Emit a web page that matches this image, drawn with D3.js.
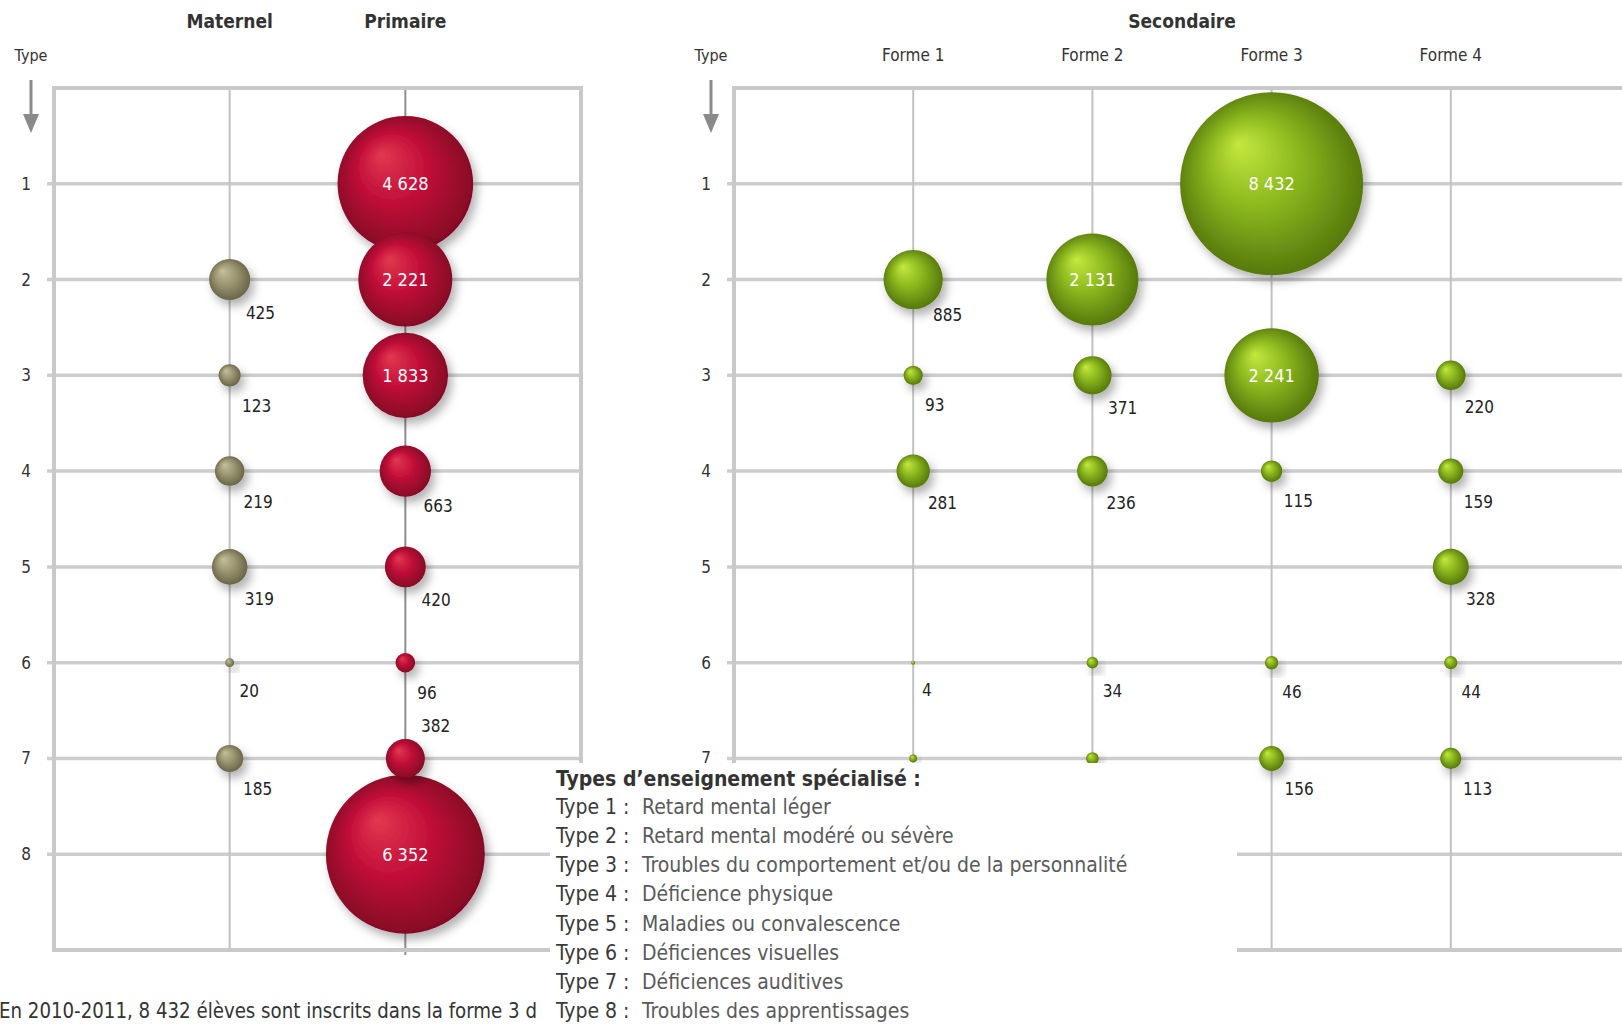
<!DOCTYPE html>
<html>
<head>
<meta charset="utf-8">
<script src="https://cdn.jsdelivr.net/npm/d3@7"></script>
<style>
  body { margin: 0; background: #fff; }
  svg text { font-family: "Liberation Sans Narrow", "DejaVu Sans Condensed", "Arial Narrow", sans-serif; fill: #333; }
</style>
</head>
<body>
<svg id="chart"></svg>
<script>
// ---- data ----
const types = ["1", "2", "3", "4", "5", "6", "7", "8"];

const fondCols = ["Maternel", "Primaire"];
const maternel = [null, 425, 123, 219, 319, 20, 185, null];
const primaire = [4628, 2221, 1833, 663, 420, 96, 382, 6352];

const secCols = ["Forme 1", "Forme 2", "Forme 3", "Forme 4"];
const forme1 = [null, 885, 93, 281, null, 4, 15, null];   // row 7 hidden under legend, estimated
const forme2 = [null, 2131, 371, 236, null, 34, 40, null]; // row 7 hidden under legend, estimated
const forme3 = [8432, null, 2241, 115, null, 46, 156, null];
const forme4 = [null, null, 220, 159, 328, 44, 113, null];

const legendTitle = "Types d\u2019enseignement spécialisé :";
const legendLabels = ["Retard mental léger", "Retard mental modéré ou sévère",
  "Troubles du comportement et/ou de la personnalité", "Déficience physique",
  "Maladies ou convalescence", "Déficiences visuelles", "Déficiences auditives",
  "Troubles des apprentissages"];
// only the visible part: the rest sits under the legend box
const footnote = "En 2010-2011, 8 432 élèves sont inscrits dans la forme 3 d";

// ---- layout ----
const width = 1622, height = 1025;
const frameTop = 88, frameBottom = 950;

const svg = d3.select("#chart")
    .attr("width", width)
    .attr("height", height);

const fr = d3.formatLocale({decimal: ",", thousands: "\u00a0", grouping: [3], currency: ["", " €"]});
const fmt = fr.format(",d");

// one radius scale for both panels (bubble area ~ pupils)
const r = d3.scaleSqrt().domain([0, 8432]).range([0, 91.5]);

const y = d3.scalePoint().domain(types).range([frameTop, frameBottom]).padding(1);

// gradients + shadow
const defs = svg.append("defs");
const palettes = {
  red:   ["#e2384f", "#c3103a", "#7e0522"],
  olive: ["#c4c09c", "#9d9772", "#635f44"],
  green: ["#c4e83e", "#8cb81e", "#4f700a"]
};
Object.entries(palettes).forEach(function ([key, c]) {
  const g = defs.append("radialGradient")
      .attr("id", "grad-" + key)
      .attr("cx", "50%").attr("cy", "50%").attr("r", "55%")
      .attr("fx", "32%").attr("fy", "28%");
  g.append("stop").attr("offset", "0%").attr("stop-color", c[0]);
  g.append("stop").attr("offset", "45%").attr("stop-color", c[1]);
  g.append("stop").attr("offset", "100%").attr("stop-color", c[2]);
});
const filt = defs.append("filter").attr("id", "shadow")
    .attr("x", "-40%").attr("y", "-40%").attr("width", "200%").attr("height", "200%");
filt.append("feDropShadow")
    .attr("dx", 4).attr("dy", 6).attr("stdDeviation", 5)
    .attr("flood-color", "#000").attr("flood-opacity", 0.3);

/**
 * Draws one bubble grid: frame, gridlines, headers, bubbles and labels
 */
function drawPanel(left, right, cols, series, colors, darkCol, hiddenTicks) {
  const x = d3.scalePoint().domain(cols).range([left, right]).padding(1);
  const g = svg.append("g");
  const xEnd = Math.min(right, width + 10);

  // horizontal gridlines (with a small tick left of the frame)
  g.selectAll(".hgrid").data(types).enter().append("line")
      .attr("x1", left - 7).attr("x2", xEnd)
      .attr("y1", d => y(d)).attr("y2", d => y(d))
      .attr("stroke", "#cdcdcd").attr("stroke-width", 3.5);

  // vertical gridlines
  g.selectAll(".vgrid").data(cols).enter().append("line")
      .attr("x1", d => x(d)).attr("x2", d => x(d))
      .attr("y1", frameTop)
      .attr("y2", d => d === darkCol ? frameBottom + 5 : frameBottom)
      .attr("stroke", d => d === darkCol ? "#8e8e8e" : "#c2c2c2")
      .attr("stroke-width", 2);

  // frame
  g.append("rect")
      .attr("x", left).attr("y", frameTop)
      .attr("width", right - left).attr("height", frameBottom - frameTop)
      .attr("fill", "none").attr("stroke", "#c9c9c9").attr("stroke-width", 4);

  // row labels
  const yAxis = g.append("g")
      .attr("transform", `translate(${left - 7},0)`)
      .call(d3.axisLeft(y).tickSize(0).tickPadding(16));
  yAxis.select(".domain").remove();
  yAxis.selectAll("text")
      .style("font-size", "17px")
      .attr("fill", "#222");
  yAxis.selectAll(".tick").filter(d => hiddenTicks.includes(d)).remove();

  // "Type" + arrow
  const ax = left - 23;
  g.append("text").attr("x", ax).attr("y", 55).attr("dy", "0.35em")
      .attr("text-anchor", "middle").style("font-size", "16px").text("Type");
  g.append("line").attr("x1", ax).attr("x2", ax).attr("y1", 80).attr("y2", 118)
      .attr("stroke", "#8a8a8a").attr("stroke-width", 3);
  g.append("path")
      .attr("d", `M${ax - 8},114 L${ax + 8},114 L${ax},133 Z`)
      .attr("fill", "#8a8a8a");

  // bubbles
  let points = [];
  cols.forEach(function (c, ci) {
    series[ci].forEach(function (v, ti) {
      if (v == null) return;
      points.push({col: c, type: types[ti], ti: ti, ci: ci, value: v, color: colors[ci]});
    });
  });
  points.sort((a, b) => b.value - a.value);

  g.selectAll(".bubble").data(points).enter().append("circle")
      .attr("cx", d => x(d.col))
      .attr("cy", d => y(d.type))
      .attr("r", d => r(d.value))
      .attr("fill", d => `url(#grad-${d.color})`)
      .attr("filter", "url(#shadow)");

  // labels: inside the big bubbles, below-right of the small ones
  // (labels of points that end up under the legend box are skipped)
  g.selectAll(".lab").data(points.filter(d => !hiddenTicks.includes(d.type) &&
        !(hiddenTicks.length && d.type === "7" && d.ci < 2))).enter().append("text")
      .attr("x", function (d) {
        return d.value >= 1000 ? x(d.col) : x(d.col) + 8 + 0.4 * r(d.value);
      })
      .attr("y", function (d) {
        const cy = y(d.type), rr = r(d.value);
        if (d.value >= 1000) return cy;
        const below = cy + 27 + 0.3 * rr;
        const next = series[d.ci][d.ti + 1];
        if (next != null && y(types[d.ti + 1]) - r(next) < below + 10) {
          return cy - rr - 13;
        }
        return below;
      })
      .attr("dy", "0.35em")
      .attr("text-anchor", d => d.value >= 1000 ? "middle" : "start")
      .style("font-size", d => d.value >= 1000 ? "18px" : "17px")
      .style("fill", d => d.value >= 1000 ? "#fff" : "#222")
      .text(d => fmt(d.value));

  return x;
}

// ---- left panel: fondamental ----
const xLeft = drawPanel(54, 581, fondCols, [maternel, primaire], ["olive", "red"], "Primaire", []);
svg.selectAll(".ltitle").data(fondCols).enter().append("text")
    .attr("x", d => xLeft(d)).attr("y", 21).attr("dy", "0.35em")
    .attr("text-anchor", "middle")
    .style("font-size", "19px").style("font-weight", "bold")
    .text(d => d);

// ---- right panel: secondaire ----
const xRight = drawPanel(734, 1630, secCols, [forme1, forme2, forme3, forme4],
    ["green", "green", "green", "green"], null, ["8"]);
svg.selectAll(".rhead").data(secCols).enter().append("text")
    .attr("x", d => xRight(d)).attr("y", 55).attr("dy", "0.35em")
    .attr("text-anchor", "middle")
    .style("font-size", "17px")
    .text(d => d);
svg.append("text")
    .attr("x", (xRight(secCols[0]) + xRight(secCols[3])) / 2).attr("y", 21).attr("dy", "0.35em")
    .attr("text-anchor", "middle")
    .style("font-size", "19px").style("font-weight", "bold")
    .text("Secondaire");

// ---- footnote, then legend box laid over the chart ----
svg.append("text")
    .attr("x", -1).attr("y", 1011).attr("dy", "0.35em")
    .attr("textLength", 538).attr("lengthAdjust", "spacingAndGlyphs")
    .style("font-size", "21px")
    .text(footnote);

const legend = svg.append("g");
legend.append("rect")
    .attr("x", 550).attr("y", 763)
    .attr("width", 687).attr("height", 270)
    .attr("fill", "#fff");
legend.append("text")
    .attr("x", 556).attr("y", 779).attr("dy", "0.35em")
    .style("font-size", "21px").style("font-weight", "bold")
    .text(legendTitle);
const rows = legend.selectAll(".lrow").data(legendLabels).enter().append("g")
    .attr("transform", (d, i) => `translate(556,${806.5 + i * 29.2})`);
rows.append("text")
    .attr("dy", "0.35em")
    .style("font-size", "21px").style("fill", "#3a3a3a")
    .text((d, i) => `Type ${types[i]} :`);
rows.append("text")
    .attr("x", 86).attr("dy", "0.35em")
    .style("font-size", "21px").style("fill", "#5a5a5a")
    .text(d => d);
</script>
</body>
</html>
